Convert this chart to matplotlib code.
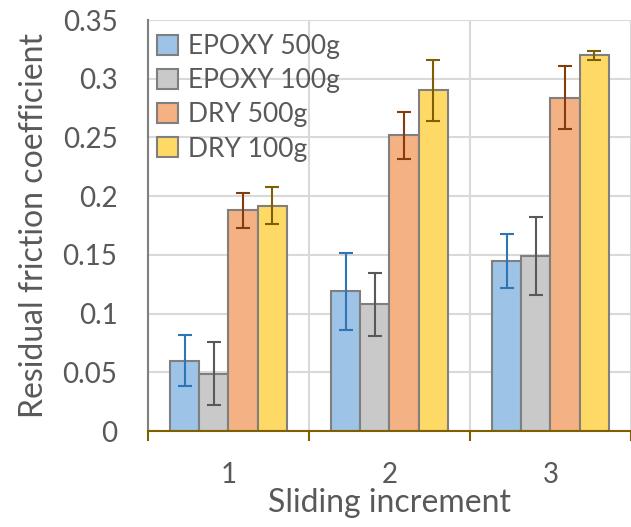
import numpy as np
import matplotlib
matplotlib.use("Agg")
import matplotlib.pyplot as plt

plt.rcParams['font.family'] = ['Lato', 'DejaVu Sans']

increments = ['1', '2', '3']
series = ['EPOXY 500g', 'EPOXY 100g', 'DRY 500g', 'DRY 100g']
epoxy_500 = [0.060, 0.119, 0.145]
epoxy_100 = [0.049, 0.108, 0.149]
dry_500 = [0.188, 0.252, 0.284]
dry_100 = [0.192, 0.290, 0.320]
epoxy_500_err = [0.022, 0.033, 0.023]
epoxy_100_err = [0.027, 0.027, 0.033]
dry_500_err = [0.015, 0.020, 0.027]
dry_100_err = [0.016, 0.026, 0.004]

values = [epoxy_500, epoxy_100, dry_500, dry_100]
errors = [epoxy_500_err, epoxy_100_err, dry_500_err, dry_100_err]
fills = ['#9DC3E6', '#C9C9C9', '#F4B183', '#FFD966']
err_colors = ['#2E75B6', '#595959', '#843C0C', '#7F6000']

txt = '#595959'
fig = plt.figure(figsize=(6.31, 5.27), dpi=100)
ax = fig.add_axes([0.2345, 0.182, 0.7655, 0.780])

x = np.arange(1, len(increments) + 1)
w = 0.182
for i in range(4):
    pos = x + (i - 1.5) * w
    ax.bar(pos, values[i], width=w, color=fills[i], edgecolor='#7F7F7F',
           linewidth=1.5, label=series[i], zorder=3)
    ax.errorbar(pos, values[i], yerr=errors[i], fmt='none', ecolor=err_colors[i],
                elinewidth=1.5, capsize=5, capthick=1.5, zorder=4)

ax.set_xlim(0.5, 3.5)
ax.set_ylim(0, 0.35)
ax.set_yticks(np.arange(0, 0.351, 0.05))
ax.set_yticklabels(['0', '0.05', '0.1', '0.15', '0.2', '0.25', '0.3', '0.35'])
ax.set_xticks(x)
ax.set_xticklabels(increments)
ax.set_xticks([0.5, 1.5, 2.5, 3.5], minor=True)

ax.grid(axis='y', color='#D9D9D9', linewidth=1.5, zorder=0)
ax.grid(axis='x', which='minor', color='#D9D9D9', linewidth=1.5, zorder=0)
ax.grid(axis='x', which='major', visible=False)

for s in ['top', 'right']:
    ax.spines[s].set_visible(False)
ax.spines['left'].set_color('#7F7F7F')
ax.spines['left'].set_linewidth(1.5)
ax.spines['bottom'].set_color('#7F6000')
ax.spines['bottom'].set_linewidth(1.5)
ax.spines['bottom'].set_zorder(5)

ax.tick_params(axis='y', length=0, pad=22, labelsize=20, labelcolor=txt)
ax.tick_params(axis='x', which='major', length=0, pad=22, labelsize=20, labelcolor=txt)
ax.tick_params(axis='x', which='minor', length=7, width=1.5, color='#7F6000', direction='out')

ax.set_xlabel('Sliding increment', fontsize=23, color=txt, labelpad=0)
ax.set_ylabel('Residual friction coefficient', fontsize=23, color=txt, labelpad=10)

leg = ax.legend(loc='upper left', bbox_to_anchor=(-0.015, 1.005), frameon=False,
                fontsize=19, handlelength=0.8, handleheight=0.8, handletextpad=0.4,
                labelspacing=0.35, borderaxespad=0.2)
for t in leg.get_texts():
    t.set_color(txt)

fig.savefig('out.png', dpi=100)
